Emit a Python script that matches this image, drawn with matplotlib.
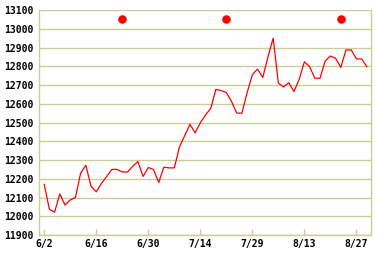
import matplotlib
matplotlib.use('Agg')
from matplotlib import pyplot as plt

# closing values, one per trading day (6/2 .. end of Aug)
values = [12170, 12037, 12022, 12119, 12060, 12087, 12100, 12230, 12272, 12160,
          12130, 12175, 12212, 12250, 12250, 12236, 12236, 12266, 12292, 12212,
          12260, 12250, 12180, 12262, 12258, 12258, 12370, 12430, 12490, 12445,
          12498, 12540, 12575, 12677, 12670, 12660, 12612, 12550, 12550, 12660,
          12755, 12785, 12740, 12850, 12950, 12710, 12690, 12712, 12665, 12730,
          12824, 12798, 12736, 12736, 12828, 12855, 12842, 12794, 12887, 12887,
          12839, 12839, 12798]
tick_pos = [0, 10, 20, 30, 40, 50, 60]
tick_labels = ['6/2', '6/16', '6/30', '7/14', '7/29', '8/13', '8/27']
event_pos = [15, 35, 57]
event_val = [13052, 13052, 13052]
yticks = list(range(11900, 13101, 100))

grid_color = '#cccc99'

fig = plt.figure(figsize=(3.82, 2.58), dpi=100)
ax = fig.add_axes([39 / 382, 23 / 258, 332 / 382, 225 / 258])

for y in yticks:
    ax.axhline(y, color=grid_color, linewidth=1.0, zorder=1)

x = list(range(len(values)))
ax.plot(x, values, color='red', linewidth=0.9, zorder=3)
ax.scatter(event_pos, event_val, s=38, color='red', zorder=4, linewidths=0)

ax.set_xlim(-1.0, 62.8)
ax.set_ylim(11900, 13100)
ax.set_yticks(yticks)
ax.set_xticks(tick_pos)
ax.set_xticklabels(tick_labels)

for s in ['left', 'right', 'bottom', 'top']:
    ax.spines[s].set_color(grid_color)
    ax.spines[s].set_linewidth(1.0)
ax.spines['top'].set_visible(False)

ax.tick_params(axis='x', direction='in', length=4, width=1.0, color=grid_color, pad=3)
ax.tick_params(axis='y', length=0, pad=4)
for lab in ax.get_xticklabels() + ax.get_yticklabels():
    lab.set_family('DejaVu Sans Mono')
    lab.set_fontweight('bold')
    lab.set_fontsize(7)

fig.savefig('out.png', dpi=100)
